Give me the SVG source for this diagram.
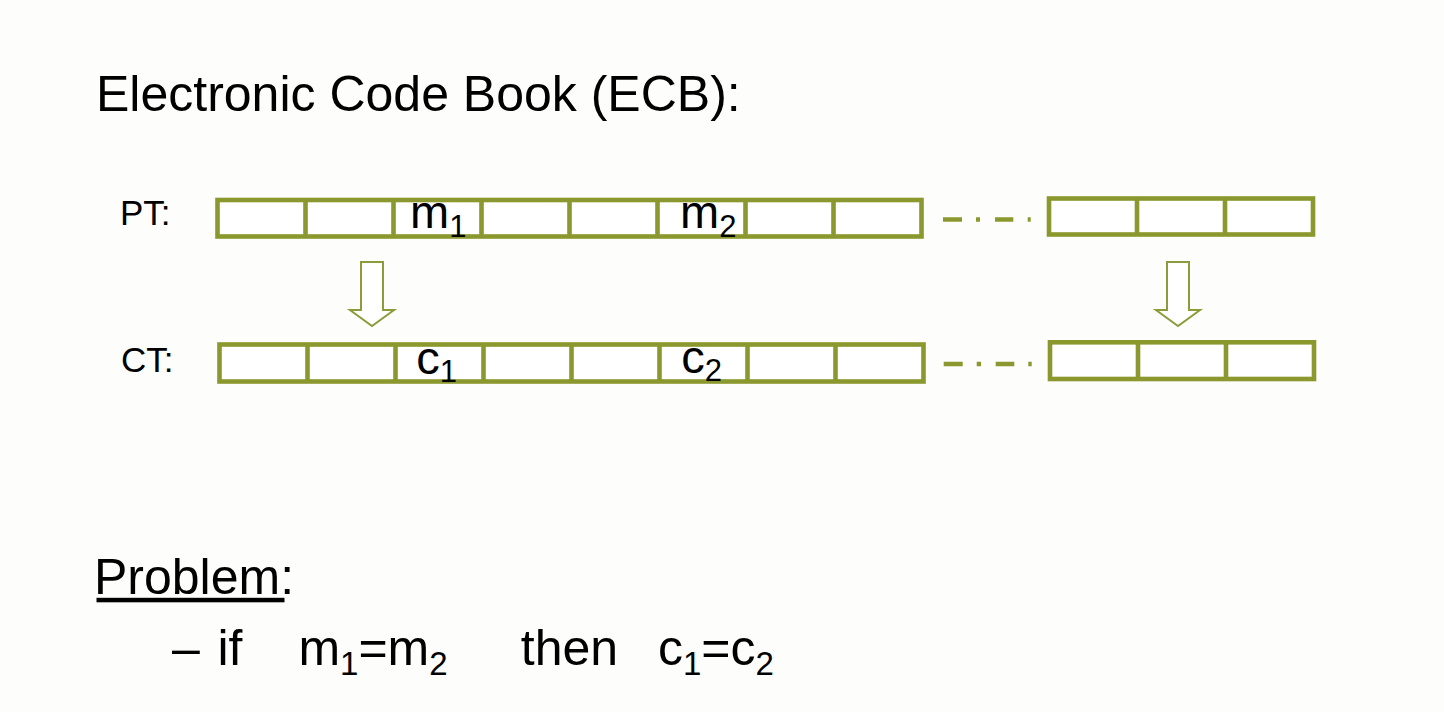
<svg xmlns="http://www.w3.org/2000/svg" width="1444" height="712" viewBox="0 0 1444 712">
  <style>
    .t { font-family: "Liberation Sans", Arial, sans-serif; fill: #000; }
    .box { fill: #fff; stroke: #8a982e; stroke-width: 4.6; }
    .div { stroke: #8a982e; stroke-width: 4.6; fill: none; }
    .dash { stroke: #8a982e; stroke-width: 4.5; fill: none; }
    .arrow { fill: #fff; stroke: #8d9b3b; stroke-width: 2; stroke-linejoin: miter; }
  </style>
  <rect x="0" y="0" width="1444" height="712" fill="#fdfdfb"/>

  <g id="title">
    <text class="t" x="96" y="110.5" font-size="50">Electronic Code Book (ECB):</text>
  </g>

  <g id="pt-label">
    <text class="t" x="120" y="224.5" font-size="35">PT:</text>
  </g>
  <g id="ct-label">
    <text class="t" x="121" y="371.5" font-size="35">CT:</text>
  </g>

  <g id="pt-row">
    <rect class="box" x="217.5" y="200" width="704" height="36.5"/>
    <path class="div" d="M305.5 200V236.5M393.5 200V236.5M481.5 200V236.5M569.5 200V236.5M657.5 200V236.5M745.5 200V236.5M833.5 200V236.5"/>
    <text class="t" x="410" y="227.5" font-size="47">m<tspan font-size="31" dy="9.5">1</tspan></text>
    <text class="t" x="680" y="227.5" font-size="47">m<tspan font-size="31" dy="9.5">2</tspan></text>
  </g>

  <g id="ct-row">
    <rect class="box" x="219.5" y="344.5" width="704" height="37"/>
    <path class="div" d="M307.5 344.5V381.5M395.5 344.5V381.5M483.5 344.5V381.5M571.5 344.5V381.5M659.5 344.5V381.5M747.5 344.5V381.5M835.5 344.5V381.5"/>
    <text class="t" x="416.3" y="373.5" font-size="47">c<tspan font-size="31" dy="8.5">1</tspan></text>
    <text class="t" x="681.3" y="373" font-size="47">c<tspan font-size="31" dy="8">2</tspan></text>
  </g>

  <g id="pt-tail">
    <rect class="box" x="1049" y="198.5" width="264" height="36"/>
    <path class="div" d="M1137 198.5V234.5M1225 198.5V234.5"/>
  </g>
  <g id="ct-tail">
    <rect class="box" x="1050" y="342.3" width="264" height="36.7"/>
    <path class="div" d="M1138 342.3V379M1226 342.3V379"/>
  </g>

  <g id="connectors">
    <path class="dash" d="M943 219.5H962M976 219.5H980M995 219.5H1013.3M1027.7 219.5H1030.7"/>
    <path class="dash" d="M943.7 364H962.7M976.7 364H981M995.7 364H1014.3M1028.3 364H1031.7"/>
    <polygon class="arrow" points="361,262 383,262 383,310 394,310 372,326 350,310 361,310"/>
    <polygon class="arrow" points="1167,262 1189,262 1189,310 1200,310 1178,326 1156,310 1167,310"/>
  </g>

  <g id="problem">
    <text class="t" x="94" y="593.5" font-size="50">Problem:</text>
    <rect x="96.5" y="597.8" width="188" height="4.5" fill="#000"/>
    <text class="t" x="172" y="665" font-size="50">–</text>
    <text class="t" x="217.5" y="665" font-size="50">if</text>
    <text class="t" x="298.4" y="665" font-size="50">m<tspan font-size="33" dy="10">1</tspan><tspan dy="-10">=m</tspan><tspan font-size="33" dy="10">2</tspan></text>
    <text class="t" x="520.8" y="665" font-size="50">then</text>
    <text class="t" x="658" y="665" font-size="50">c<tspan font-size="33" dy="10">1</tspan><tspan dy="-10">=c</tspan><tspan font-size="33" dy="10">2</tspan></text>
  </g>
</svg>
